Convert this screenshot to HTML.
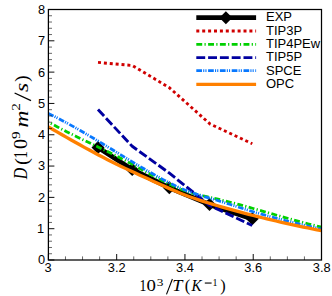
<!DOCTYPE html><html><head><meta charset="utf-8"><style>html,body{margin:0;padding:0;background:#fff}svg{display:block}text{font-family:"Liberation Sans",sans-serif;fill:#000}.s{font-family:"Liberation Serif",serif}</style></head><body>
<svg width="332" height="296" viewBox="0 0 332 296">
<rect width="332" height="296" fill="#fff"/>
<g fill="none" stroke-linejoin="round">
<path d="M98.00 147.50 L132.20 169.50 L169.30 187.70 L209.50 204.60 L252.30 218.80" stroke="#000" stroke-width="4.9"/>
<path d="M91.50 147.50 L98.00 141.00 L104.50 147.50 L98.00 154.00Z" fill="#000" stroke="none"/>
<path d="M125.70 169.50 L132.20 163.00 L138.70 169.50 L132.20 176.00Z" fill="#000" stroke="none"/>
<path d="M162.80 187.70 L169.30 181.20 L175.80 187.70 L169.30 194.20Z" fill="#000" stroke="none"/>
<path d="M203.00 204.60 L209.50 198.10 L216.00 204.60 L209.50 211.10Z" fill="#000" stroke="none"/>
<path d="M245.80 218.80 L252.30 212.30 L258.80 218.80 L252.30 225.30Z" fill="#000" stroke="none"/>
<path d="M98.00 62.40 L132.20 65.50 L169.00 87.40 L210.20 124.10 L252.30 143.70" stroke="#d00000" stroke-width="2.9" stroke-dasharray="3 2.9"/>
<path d="M48.40 122.00 L52.95 124.53 L57.50 126.98 L62.05 129.36 L66.61 131.69 L71.16 133.97 L75.71 136.21 L80.26 138.42 L84.81 140.61 L89.37 142.79 L93.92 144.97 L98.47 147.15 L103.02 149.35 L107.57 151.58 L112.12 153.84 L116.68 156.14 L121.23 158.49 L125.78 160.89 L130.33 163.32 L134.88 165.78 L139.43 168.25 L143.99 170.74 L148.54 173.22 L153.09 175.70 L157.64 178.15 L162.19 180.54 L166.74 182.86 L171.30 185.07 L175.85 187.14 L180.40 189.06 L184.95 190.78 L189.50 192.30 L194.05 193.65 L198.61 194.85 L203.16 195.94 L207.71 196.97 L212.26 197.96 L216.81 198.96 L221.36 200.00 L225.92 201.10 L230.47 202.25 L235.02 203.43 L239.57 204.66 L244.12 205.91 L248.67 207.19 L253.23 208.48 L257.78 209.78 L262.33 211.08 L266.88 212.38 L271.43 213.68 L275.98 214.98 L280.54 216.27 L285.09 217.55 L289.64 218.82 L294.19 220.08 L298.74 221.32 L303.29 222.55 L307.84 223.75 L312.40 224.93 L316.95 226.08 L321.50 227.20" stroke="#00d000" stroke-width="2.8" stroke-dasharray="5.9 2.3 1.2 2.4" stroke-dashoffset="5.4"/>
<path d="M98.00 109.60 L132.20 146.30 L168.80 172.70 L209.80 205.50 L252.20 225.50" stroke="#0000a0" stroke-width="2.9" stroke-dasharray="8.9 2.9"/>
<path d="M48.40 113.50 L52.95 115.73 L57.50 118.04 L62.05 120.42 L66.61 122.86 L71.16 125.36 L75.71 127.91 L80.26 130.51 L84.81 133.15 L89.37 135.82 L93.92 138.53 L98.47 141.27 L103.02 144.02 L107.57 146.79 L112.12 149.56 L116.68 152.35 L121.23 155.12 L125.78 157.90 L130.33 160.66 L134.88 163.40 L139.43 166.11 L143.99 168.80 L148.54 171.45 L153.09 174.07 L157.64 176.63 L162.19 179.12 L166.74 181.53 L171.30 183.83 L175.85 186.02 L180.40 188.08 L184.95 189.98 L189.50 191.72 L194.05 193.33 L198.61 194.83 L203.16 196.24 L207.71 197.60 L212.26 198.94 L216.81 200.28 L221.36 201.66 L225.92 203.08 L230.47 204.53 L235.02 205.99 L239.57 207.47 L244.12 208.93 L248.67 210.37 L253.23 211.78 L257.78 213.14 L262.33 214.46 L266.88 215.74 L271.43 216.98 L275.98 218.19 L280.54 219.37 L285.09 220.52 L289.64 221.65 L294.19 222.76 L298.74 223.86 L303.29 224.94 L307.84 226.01 L312.40 227.07 L316.95 228.14 L321.50 229.20" stroke="#0878ff" stroke-width="2.8" stroke-dasharray="5.7 1.2 1.1 1.1 1.1 1.6"/>
<path d="M48.40 126.90 L52.95 129.53 L57.50 132.16 L62.05 134.77 L66.61 137.37 L71.16 139.95 L75.71 142.52 L80.26 145.06 L84.81 147.58 L89.37 150.06 L93.92 152.52 L98.47 154.94 L103.02 157.33 L107.57 159.68 L112.12 161.98 L116.68 164.24 L121.23 166.45 L125.78 168.62 L130.33 170.76 L134.88 172.87 L139.43 174.96 L143.99 177.04 L148.54 179.11 L153.09 181.19 L157.64 183.27 L162.19 185.33 L166.74 187.37 L171.30 189.37 L175.85 191.31 L180.40 193.18 L184.95 194.98 L189.50 196.69 L194.05 198.31 L198.61 199.86 L203.16 201.34 L207.71 202.77 L212.26 204.16 L216.81 205.50 L221.36 206.83 L225.92 208.13 L230.47 209.41 L235.02 210.66 L239.57 211.90 L244.12 213.12 L248.67 214.31 L253.23 215.48 L257.78 216.63 L262.33 217.76 L266.88 218.86 L271.43 219.95 L275.98 221.01 L280.54 222.06 L285.09 223.09 L289.64 224.09 L294.19 225.09 L298.74 226.06 L303.29 227.02 L307.84 227.96 L312.40 228.89 L316.95 229.80 L321.50 230.70" stroke="#ff8000" stroke-width="3.3"/>
</g>
<rect x="48.40" y="9.50" width="273.10" height="250.50" fill="none" stroke="#000" stroke-width="1.25"/>
<path d="M48.40 260.00h6M48.40 228.69h6M48.40 197.38h6M48.40 166.06h6M48.40 134.75h6M48.40 103.44h6M48.40 72.12h6M48.40 40.81h6M48.40 9.50h6M48.40 260.00v-6M116.68 260.00v-6M184.95 260.00v-6M253.23 260.00v-6M321.50 260.00v-6" stroke="#000" stroke-width="0.95" fill="none"/>
<path d="M48.40 253.74h3.6M48.40 247.47h3.6M48.40 241.21h3.6M48.40 234.95h3.6M48.40 222.43h3.6M48.40 216.16h3.6M48.40 209.90h3.6M48.40 203.64h3.6M48.40 191.11h3.6M48.40 184.85h3.6M48.40 178.59h3.6M48.40 172.32h3.6M48.40 159.80h3.6M48.40 153.54h3.6M48.40 147.27h3.6M48.40 141.01h3.6M48.40 128.49h3.6M48.40 122.22h3.6M48.40 115.96h3.6M48.40 109.70h3.6M48.40 97.17h3.6M48.40 90.91h3.6M48.40 84.65h3.6M48.40 78.39h3.6M48.40 65.86h3.6M48.40 59.60h3.6M48.40 53.34h3.6M48.40 47.07h3.6M48.40 34.55h3.6M48.40 28.29h3.6M48.40 22.02h3.6M48.40 15.76h3.6M65.47 260.00v-3.6M82.54 260.00v-3.6M99.61 260.00v-3.6M133.74 260.00v-3.6M150.81 260.00v-3.6M167.88 260.00v-3.6M202.02 260.00v-3.6M219.09 260.00v-3.6M236.16 260.00v-3.6M270.29 260.00v-3.6M287.36 260.00v-3.6M304.43 260.00v-3.6" stroke="#000" stroke-width="0.6" fill="none"/>
<text x="45.2" y="264.40" font-size="12.8" text-anchor="end">0</text>
<text x="44.0" y="233.09" font-size="12.8" text-anchor="end">1</text>
<text x="45.2" y="201.78" font-size="12.8" text-anchor="end">2</text>
<text x="45.2" y="170.46" font-size="12.8" text-anchor="end">3</text>
<text x="45.2" y="139.15" font-size="12.8" text-anchor="end">4</text>
<text x="45.2" y="107.84" font-size="12.8" text-anchor="end">5</text>
<text x="45.2" y="76.53" font-size="12.8" text-anchor="end">6</text>
<text x="45.2" y="45.21" font-size="12.8" text-anchor="end">7</text>
<text x="45.2" y="13.90" font-size="12.8" text-anchor="end">8</text>
<text x="48.00" y="272.0" font-size="12.8" text-anchor="middle">3</text>
<text x="116.68" y="272.0" font-size="12.8" text-anchor="middle">3.2</text>
<text x="184.95" y="272.0" font-size="12.8" text-anchor="middle">3.4</text>
<text x="253.23" y="272.0" font-size="12.8" text-anchor="middle">3.6</text>
<text x="321.70" y="272.0" font-size="12.8" text-anchor="middle">3.8</text>
<text class="s" transform="translate(139.55 290.80) scale(0.854 1.042)" font-size="16">1</text>
<text class="s" transform="translate(146.59 290.78) scale(1.176 1.032)" font-size="16">0</text>
<text class="s" transform="translate(156.72 285.60) scale(0.834 0.641)" font-size="16">3</text>
<text class="s" transform="translate(172.28 290.80) scale(1.144 1.021)" font-size="16" font-style="italic">T</text>
<text class="s" transform="translate(184.66 290.90) scale(1.029 1.088)" font-size="16">(</text>
<text class="s" transform="translate(191.59 290.80) scale(0.943 1.021)" font-size="16" font-style="italic">K</text>
<text class="s" transform="translate(212.53 285.80) scale(0.621 0.663)" font-size="16">1</text>
<text class="s" transform="translate(220.17 290.90) scale(1.019 1.088)" font-size="16">)</text>
<path d="M166.5 294.4L172.4 279.0" stroke="#000" stroke-width="1.1" fill="none"/>
<rect x="204.8" y="282.5" width="6.8" height="1.1" fill="#000"/>
<g transform="rotate(-90)">
<text class="s" transform="translate(-179.14 27.35) scale(0.993 1.198)" font-size="16" font-style="italic">D</text>
<text class="s" transform="translate(-165.12 27.63) scale(1.275 1.198)" font-size="16">(</text>
<text class="s" transform="translate(-158.43 27.40) scale(0.932 1.136)" font-size="16">1</text>
<text class="s" transform="translate(-148.96 27.42) scale(1.265 1.139)" font-size="16">0</text>
<text class="s" transform="translate(-138.99 20.18) scale(0.950 0.762)" font-size="16">9</text>
<text class="s" transform="translate(-127.48 27.70) scale(1.469 1.130)" font-size="16" font-style="italic">m</text>
<text class="s" transform="translate(-110.79 20.30) scale(0.953 0.774)" font-size="16">2</text>
<text class="s" transform="translate(-92.10 27.61) scale(1.486 1.198)" font-size="16" font-style="italic">s</text>
<text class="s" transform="translate(-82.06 27.63) scale(1.262 1.198)" font-size="16">)</text>
<path d="M-100.60 31.00L-93.00 14.60" stroke="#000" stroke-width="1.35" fill="none"/>
</g>
<g fill="none">
<path d="M196.3 17.65H256.1" stroke="#000" stroke-width="4.9"/>
<path d="M219.40 17.65 L225.90 11.15 L232.40 17.65 L225.90 24.15Z" fill="#000" stroke="none"/>
<path d="M196.3 31.05H256.1" stroke="#d00000" stroke-width="2.9" stroke-dasharray="3 2.9"/>
<path d="M196.3 44.30H256.1" stroke="#00d000" stroke-width="2.8" stroke-dasharray="5.9 2.3 1.2 2.4"/>
<path d="M196.3 57.65H256.1" stroke="#0000a0" stroke-width="2.9" stroke-dasharray="8.9 2.9"/>
<path d="M196.3 70.70H256.1" stroke="#0878ff" stroke-width="2.8" stroke-dasharray="5.7 1.2 1.1 1.1 1.1 1.6"/>
<path d="M196.3 84.30H256.1" stroke="#ff8000" stroke-width="3.3"/>
</g>
<text x="266.0" y="21.45" font-size="13">EXP</text>
<text x="266.0" y="34.85" font-size="13">TIP3P</text>
<text x="266.0" y="48.10" font-size="13">TIP4PEw</text>
<text x="266.0" y="61.45" font-size="13">TIP5P</text>
<text x="266.0" y="74.50" font-size="13">SPCE</text>
<text x="266.0" y="88.10" font-size="13">OPC</text>
</svg></body></html>
